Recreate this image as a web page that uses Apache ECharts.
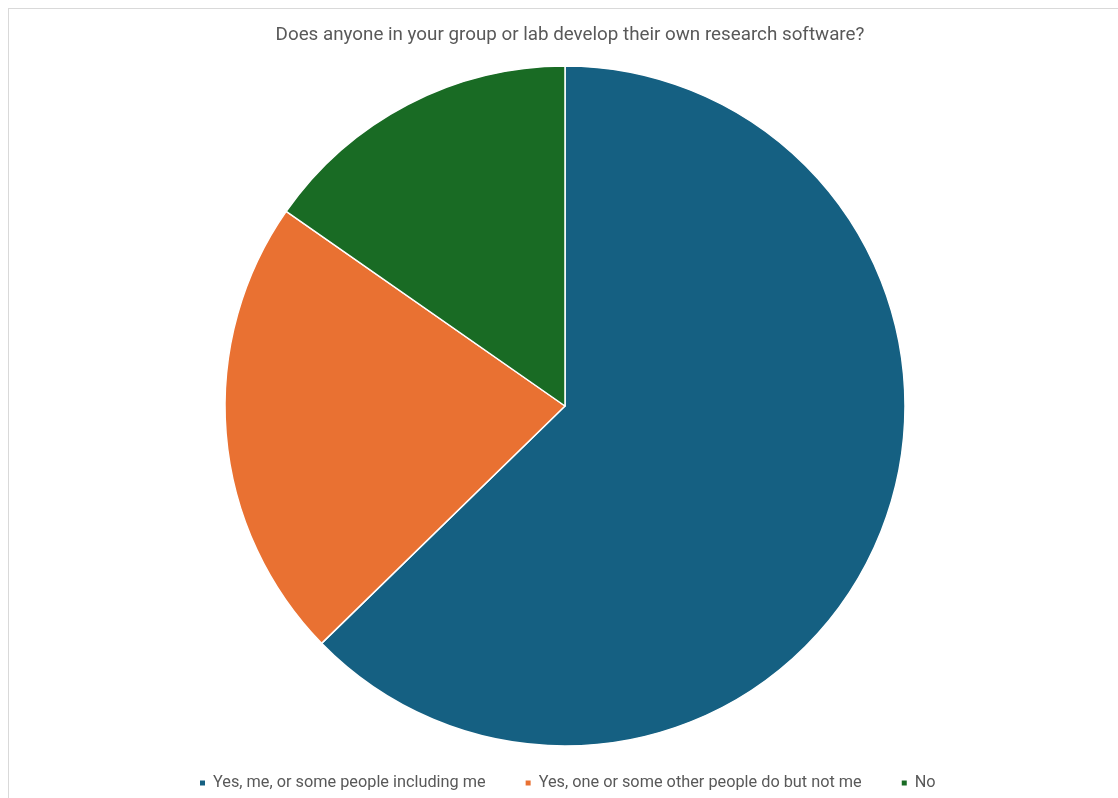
<!DOCTYPE html>
<html>
<head>
<meta charset="utf-8">
<script src="https://cdn.jsdelivr.net/npm/echarts@6/dist/echarts.min.js"></script>
<style>
  html, body { margin: 0; padding: 0; background: #fff; }
  #frame { position: absolute; left: 8px; top: 8px; width: 1200px; height: 900px; border-left: 1px solid #d9d9d9; border-top: 1px solid #d9d9d9; }
  #chart { position: absolute; left: 0; top: 0; width: 1118px; height: 798px; }
</style>
</head>
<body>
<div id="frame"></div>
<div id="chart"></div>
<script>
// Survey answers (share of respondents, %)
const categories = [
  'Yes, me, or some people including me',
  'Yes, one or some other people do but not me',
  'No'
];
const shares = [62.7, 22.0, 15.3];
const colors = ['#156082', '#E97132', '#196B24'];

const chart = echarts.init(document.getElementById('chart'), null, { renderer: 'canvas' });
chart.setOption({
  animation: false,
  title: {
    text: 'Does anyone in your group or lab develop their own research software?',
    left: 565,
    textAlign: 'center',
    top: 21,
    textStyle: { fontFamily: 'Roboto', fontSize: 18.8, fontWeight: 'normal', color: '#595959' }
  },
  legend: {
    bottom: 2,
    left: 193,
    icon: 'rect',
    itemWidth: 7,
    itemHeight: 7,
    itemGap: 38,
    textStyle: { fontFamily: 'Roboto', fontSize: 16.3, color: '#595959', padding: [0, 0, 0, 2] },
    data: categories
  },
  series: [{
    type: 'pie',
    center: [565, 406],
    radius: 340,
    startAngle: 90,
    clockwise: true,
    label: { show: false },
    labelLine: { show: false },
    itemStyle: { borderColor: '#ffffff', borderWidth: 1.5 },
    emphasis: { disabled: true },
    data: categories.map((name, i) => ({ name, value: shares[i], itemStyle: { color: colors[i] } }))
  }]
});
</script>
</body>
</html>
